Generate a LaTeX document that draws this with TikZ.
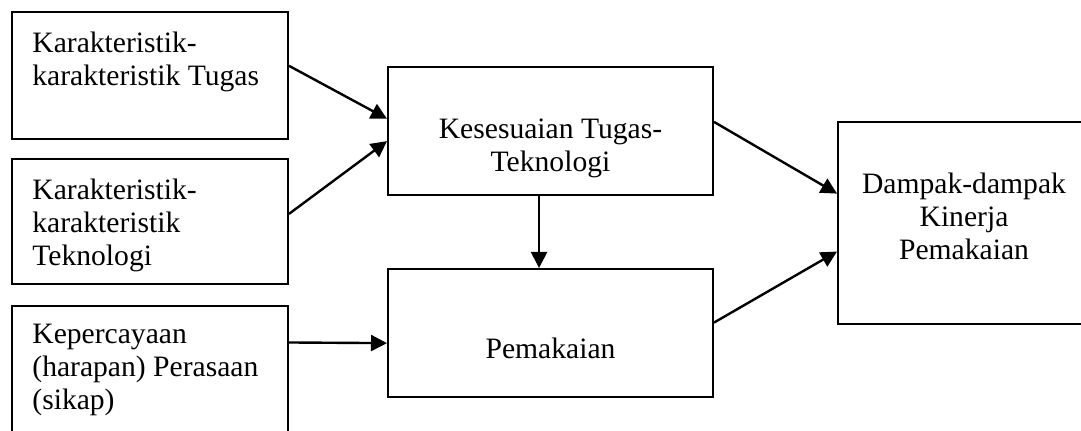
\documentclass[tikz,border=0pt]{standalone}
\usepackage{fontspec}
\setmainfont{Liberation Serif}
\usetikzlibrary{arrows.meta,calc}

\begin{document}
\begin{tikzpicture}[x=0.5pt,y=-0.5pt,
    box/.style={draw,line width=1pt,anchor=north west,inner sep=0pt},
    txt/.style={font=\fontsize{14.8pt}{16.5pt}\selectfont,inner sep=0pt},
    arr/.style={line width=1.2pt,-{Triangle[length=8pt,width=8pt]}}]
        \useasboundingbox (0,0) rectangle (1081,431);
        \node[box,minimum width=138pt,minimum height=63.5pt,
            label={[txt,align=left,anchor=north west,xshift=10.5pt,yshift=-10.5pt]north west:{Karakteristik-\\karakteristik Tugas}}] (tugas) at (11,11) {};
        \node[box,minimum width=138pt,minimum height=62.5pt,
            label={[txt,align=left,anchor=north west,xshift=10.5pt,yshift=-10.5pt]north west:{Karakteristik-\\karakteristik\\Teknologi}}] (teknologi) at (11,158) {};
        \node[box,minimum width=138pt,minimum height=70pt,
            label={[txt,align=left,anchor=north west,xshift=10.5pt,yshift=-9.5pt]north west:{Kepercayaan\\(harapan) Perasaan\\(sikap)}}] (keyakinan) at (11,305) {};
        \node[box,minimum width=162.5pt,minimum height=64pt,
            label={[txt,align=center,anchor=north,yshift=-26.2pt]north:{Kesesuaian Tugas-\\Teknologi}}] (kesesuaian) at (387,66) {};
        \node[box,minimum width=162.5pt,minimum height=64pt,
            label={[txt,align=center,anchor=north,yshift=-34.7pt]north:{Pemakaian}}] (pemakaian) at (387,268) {};
        \node[box,minimum width=126pt,minimum height=101pt,
            label={[txt,align=center,anchor=north,yshift=-25.7pt]north:{Dampak-dampak\\Kinerja\\Pemakaian}}] (dampak) at (837,121) {};
        % panah antar kotak
        \draw[arr] ($(tugas.north east)!0.425!(tugas.south east)$) -- ($(kesesuaian.north west)!0.406!(kesesuaian.south west)$);
        \draw[arr] ($(teknologi.north east)!0.44!(teknologi.south east)$) -- ($(kesesuaian.north west)!0.578!(kesesuaian.south west)$);
        \draw[arr] ($(keyakinan.north east)!0.264!(keyakinan.south east)$) -- ($(pemakaian.north west)!0.578!(pemakaian.south west)$);
        \draw[arr] ($(kesesuaian.south west)!0.465!(kesesuaian.south east)$) -- ($(pemakaian.north west)!0.465!(pemakaian.north east)$);
        \draw[arr] ($(kesesuaian.north east)!0.43!(kesesuaian.south east)$) -- ($(dampak.north west)!0.356!(dampak.south west)$);
        \draw[arr] ($(pemakaian.north east)!0.42!(pemakaian.south east)$) -- ($(dampak.north west)!0.64!(dampak.south west)$);
    \end{tikzpicture}
\end{document}
